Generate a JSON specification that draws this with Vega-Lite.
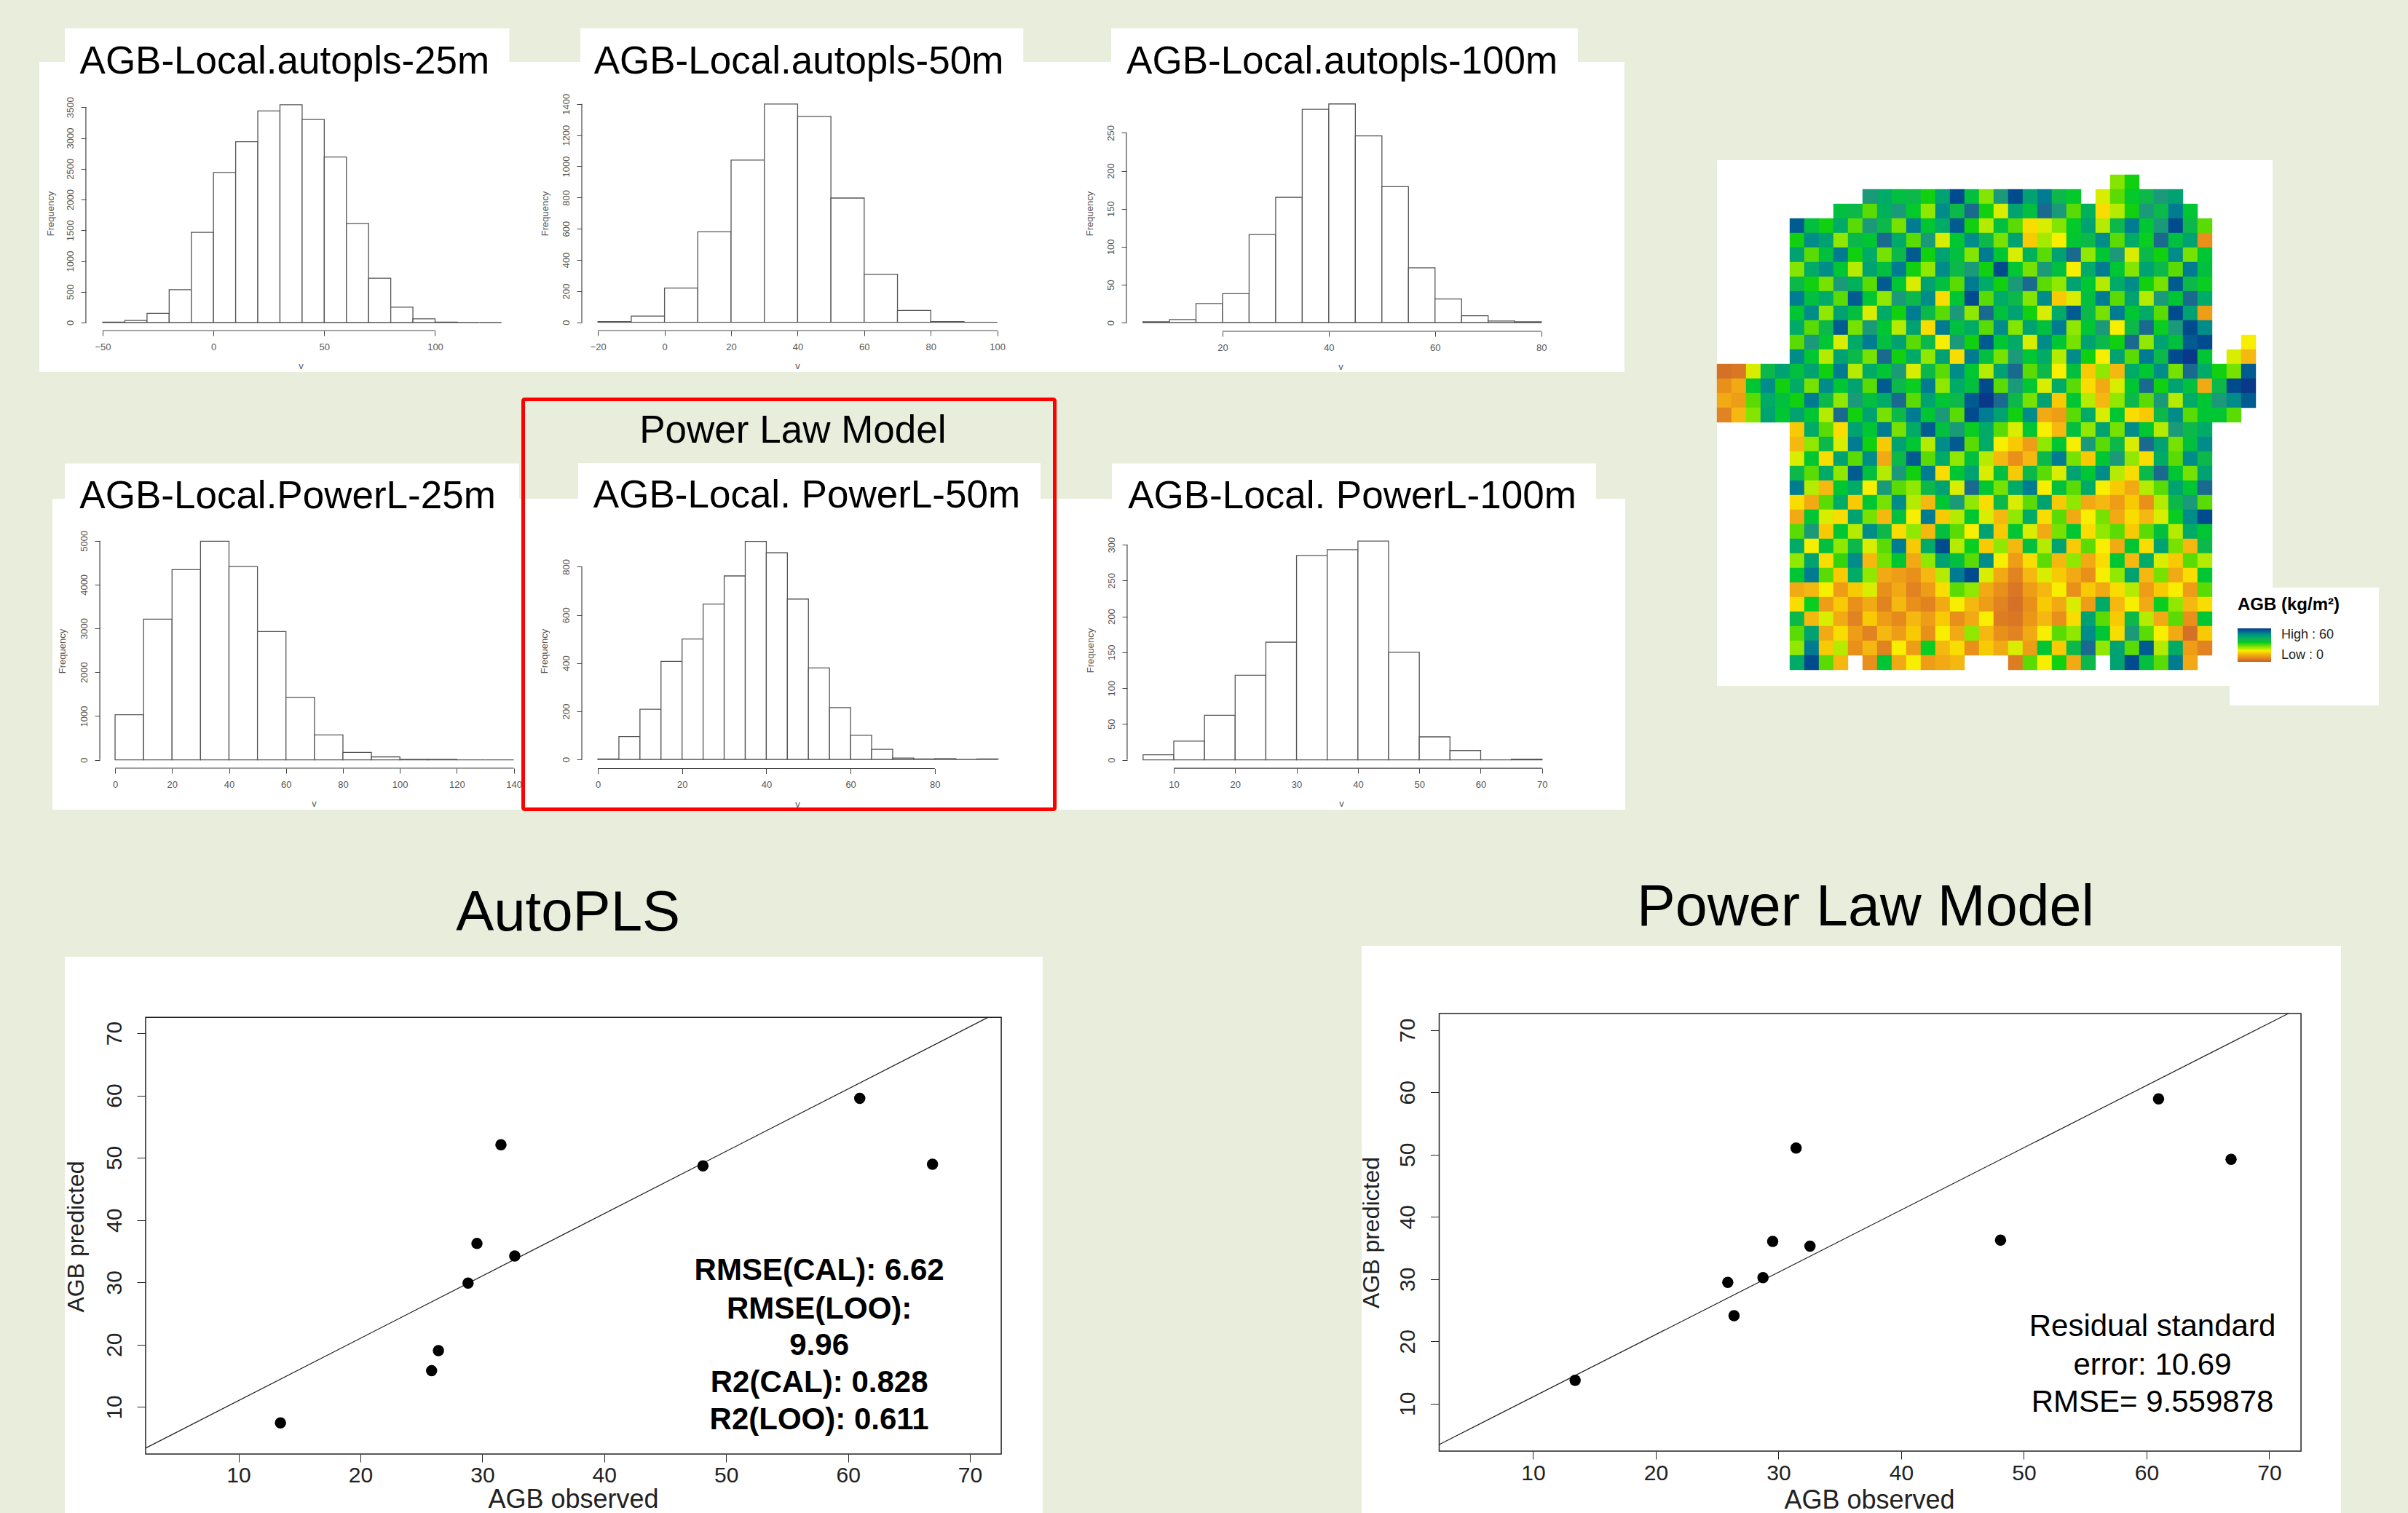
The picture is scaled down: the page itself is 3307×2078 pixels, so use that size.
{"$schema":"https://vega.github.io/schema/vega-lite/v6.json","background":"#e9eddc","padding":{"left":54,"top":38,"right":42,"bottom":0},"config":{"view":{"stroke":null},"font":"Liberation Sans","axis":{"grid":false,"domain":false,"zindex":1,"labelFont":"Liberation Sans","titleFont":"Liberation Sans","titleFontWeight":"normal","tickSize":7,"tickColor":"#444","labelColor":"#555","titleColor":"#555","labelFontSize":13,"titleFontSize":13,"labelOverlap":false,"labelBound":false,"labelFlush":false},"axisLeft":{"labelAngle":-90,"labelAlign":"center","labelBaseline":"bottom","labelPadding":8,"titleAngle":-90,"titleAlign":"center","titleBaseline":"middle"},"axisBottom":{"labelPadding":9,"titleAlign":"center","titleBaseline":"middle"}},
"datasets":{"one":[{}],"a1":[{"a":-50,"b":-40,"n":8},{"a":-40,"b":-30,"n":35},{"a":-30,"b":-20,"n":150},{"a":-20,"b":-10,"n":535},{"a":-10,"b":0,"n":1465},{"a":0,"b":10,"n":2440},{"a":10,"b":20,"n":2940},{"a":20,"b":30,"n":3440},{"a":30,"b":40,"n":3540},{"a":40,"b":50,"n":3300},{"a":50,"b":60,"n":2690},{"a":60,"b":70,"n":1610},{"a":70,"b":80,"n":720},{"a":80,"b":90,"n":250},{"a":90,"b":100,"n":60},{"a":100,"b":110,"n":8},{"a":110,"b":120,"n":0},{"a":120,"b":130,"n":0}],
"a2":[{"a":-20,"b":-10,"n":5},{"a":-10,"b":0,"n":40},{"a":0,"b":10,"n":220},{"a":10,"b":20,"n":580},{"a":20,"b":30,"n":1040},{"a":30,"b":40,"n":1400},{"a":40,"b":50,"n":1320},{"a":50,"b":60,"n":797},{"a":60,"b":70,"n":308},{"a":70,"b":80,"n":76},{"a":80,"b":90,"n":5},{"a":90,"b":100,"n":0}],
"a3":[{"a":5,"b":10,"n":1},{"a":10,"b":15,"n":4},{"a":15,"b":20,"n":25},{"a":20,"b":25,"n":38},{"a":25,"b":30,"n":116},{"a":30,"b":35,"n":165},{"a":35,"b":40,"n":281},{"a":40,"b":45,"n":288},{"a":45,"b":50,"n":246},{"a":50,"b":55,"n":179},{"a":55,"b":60,"n":72},{"a":60,"b":65,"n":31},{"a":65,"b":70,"n":9},{"a":70,"b":75,"n":2},{"a":75,"b":80,"n":1}],
"b1":[{"a":0,"b":10,"n":1030},{"a":10,"b":20,"n":3210},{"a":20,"b":30,"n":4340},{"a":30,"b":40,"n":4990},{"a":40,"b":50,"n":4410},{"a":50,"b":60,"n":2930},{"a":60,"b":70,"n":1430},{"a":70,"b":80,"n":570},{"a":80,"b":90,"n":170},{"a":90,"b":100,"n":70},{"a":100,"b":110,"n":15},{"a":110,"b":120,"n":15},{"a":120,"b":130,"n":0},{"a":130,"b":140,"n":0}],
"b2":[{"a":0,"b":5,"n":2},{"a":5,"b":10,"n":95},{"a":10,"b":15,"n":208},{"a":15,"b":20,"n":407},{"a":20,"b":25,"n":500},{"a":25,"b":30,"n":645},{"a":30,"b":35,"n":762},{"a":35,"b":40,"n":905},{"a":40,"b":45,"n":858},{"a":45,"b":50,"n":666},{"a":50,"b":55,"n":380},{"a":55,"b":60,"n":215},{"a":60,"b":65,"n":100},{"a":65,"b":70,"n":42},{"a":70,"b":75,"n":6},{"a":75,"b":80,"n":2},{"a":80,"b":85,"n":3},{"a":85,"b":90,"n":0},{"a":90,"b":95,"n":2}],
"b3":[{"a":5,"b":10,"n":7},{"a":10,"b":15,"n":26},{"a":15,"b":20,"n":62},{"a":20,"b":25,"n":118},{"a":25,"b":30,"n":164},{"a":30,"b":35,"n":285},{"a":35,"b":40,"n":293},{"a":40,"b":45,"n":305},{"a":45,"b":50,"n":150},{"a":50,"b":55,"n":32},{"a":55,"b":60,"n":13},{"a":60,"b":65,"n":0},{"a":65,"b":70,"n":1}],
"s1":[{"o":13.44,"p":7.46},{"o":25.84,"p":15.82},{"o":26.4,"p":19.04},{"o":28.83,"p":29.88},{"o":29.56,"p":36.24},{"o":32.66,"p":34.23},{"o":31.53,"p":52.1},{"o":48.1,"p":48.69},{"o":60.96,"p":59.53},{"o":66.93,"p":48.96}],
"s2":[{"o":13.43,"p":13.75},{"o":25.87,"p":29.49},{"o":26.38,"p":24.13},{"o":28.74,"p":30.23},{"o":29.53,"p":36.05},{"o":32.57,"p":35.3},{"o":31.44,"p":51.06},{"o":48.1,"p":36.26},{"o":60.98,"p":58.96},{"o":66.89,"p":49.25}],
"map":[{"c":27,"r":1,"v":27},{"c":28,"r":1,"v":33},
{"c":10,"r":2,"v":48},{"c":11,"r":2,"v":44},{"c":12,"r":2,"v":38},{"c":13,"r":2,"v":40},{"c":14,"r":2,"v":33},{"c":15,"r":2,"v":46},{"c":16,"r":2,"v":58},{"c":17,"r":2,"v":38},{"c":18,"r":2,"v":27},{"c":19,"r":2,"v":48},{"c":20,"r":2,"v":58},{"c":21,"r":2,"v":46},{"c":22,"r":2,"v":52},{"c":23,"r":2,"v":40},{"c":24,"r":2,"v":35},{"c":26,"r":2,"v":22},{"c":27,"r":2,"v":30},{"c":28,"r":2,"v":35},{"c":29,"r":2,"v":40},{"c":30,"r":2,"v":48},{"c":31,"r":2,"v":46},
{"c":8,"r":3,"v":38},{"c":9,"r":3,"v":40},{"c":10,"r":3,"v":30},{"c":11,"r":3,"v":42},{"c":12,"r":3,"v":48},{"c":13,"r":3,"v":35},{"c":14,"r":3,"v":26},{"c":15,"r":3,"v":50},{"c":16,"r":3,"v":40},{"c":17,"r":3,"v":54},{"c":18,"r":3,"v":33},{"c":19,"r":3,"v":22},{"c":20,"r":3,"v":46},{"c":21,"r":3,"v":38},{"c":22,"r":3,"v":54},{"c":23,"r":3,"v":48},{"c":24,"r":3,"v":30},{"c":25,"r":3,"v":42},{"c":26,"r":3,"v":18},{"c":27,"r":3,"v":24},{"c":28,"r":3,"v":33},{"c":29,"r":3,"v":48},{"c":30,"r":3,"v":40},{"c":31,"r":3,"v":52},{"c":32,"r":3,"v":36},
{"c":5,"r":4,"v":56},{"c":6,"r":4,"v":38},{"c":7,"r":4,"v":33},{"c":8,"r":4,"v":44},{"c":9,"r":4,"v":30},{"c":10,"r":4,"v":48},{"c":11,"r":4,"v":40},{"c":12,"r":4,"v":28},{"c":13,"r":4,"v":52},{"c":14,"r":4,"v":36},{"c":15,"r":4,"v":44},{"c":16,"r":4,"v":56},{"c":17,"r":4,"v":33},{"c":18,"r":4,"v":24},{"c":19,"r":4,"v":38},{"c":20,"r":4,"v":30},{"c":21,"r":4,"v":18},{"c":22,"r":4,"v":22},{"c":23,"r":4,"v":27},{"c":24,"r":4,"v":35},{"c":25,"r":4,"v":46},{"c":26,"r":4,"v":24},{"c":27,"r":4,"v":40},{"c":28,"r":4,"v":52},{"c":29,"r":4,"v":36},{"c":30,"r":4,"v":48},{"c":31,"r":4,"v":58},{"c":32,"r":4,"v":40},{"c":33,"r":4,"v":30},
{"c":5,"r":5,"v":33},{"c":6,"r":5,"v":50},{"c":7,"r":5,"v":46},{"c":8,"r":5,"v":26},{"c":9,"r":5,"v":40},{"c":10,"r":5,"v":36},{"c":11,"r":5,"v":54},{"c":12,"r":5,"v":44},{"c":13,"r":5,"v":30},{"c":14,"r":5,"v":48},{"c":15,"r":5,"v":22},{"c":16,"r":5,"v":36},{"c":17,"r":5,"v":50},{"c":18,"r":5,"v":40},{"c":19,"r":5,"v":28},{"c":20,"r":5,"v":46},{"c":21,"r":5,"v":16},{"c":22,"r":5,"v":25},{"c":23,"r":5,"v":20},{"c":24,"r":5,"v":36},{"c":25,"r":5,"v":40},{"c":26,"r":5,"v":50},{"c":27,"r":5,"v":30},{"c":28,"r":5,"v":44},{"c":29,"r":5,"v":34},{"c":30,"r":5,"v":54},{"c":31,"r":5,"v":38},{"c":32,"r":5,"v":46},{"c":33,"r":5,"v":8},
{"c":5,"r":6,"v":46},{"c":6,"r":6,"v":30},{"c":7,"r":6,"v":38},{"c":8,"r":6,"v":52},{"c":9,"r":6,"v":33},{"c":10,"r":6,"v":44},{"c":11,"r":6,"v":28},{"c":12,"r":6,"v":40},{"c":13,"r":6,"v":56},{"c":14,"r":6,"v":33},{"c":15,"r":6,"v":46},{"c":16,"r":6,"v":38},{"c":17,"r":6,"v":27},{"c":18,"r":6,"v":52},{"c":19,"r":6,"v":36},{"c":20,"r":6,"v":22},{"c":21,"r":6,"v":42},{"c":22,"r":6,"v":30},{"c":23,"r":6,"v":46},{"c":24,"r":6,"v":54},{"c":25,"r":6,"v":26},{"c":26,"r":6,"v":36},{"c":27,"r":6,"v":48},{"c":28,"r":6,"v":22},{"c":29,"r":6,"v":40},{"c":30,"r":6,"v":33},{"c":31,"r":6,"v":50},{"c":32,"r":6,"v":28},{"c":33,"r":6,"v":36},
{"c":5,"r":7,"v":27},{"c":6,"r":7,"v":44},{"c":7,"r":7,"v":50},{"c":8,"r":7,"v":36},{"c":9,"r":7,"v":24},{"c":10,"r":7,"v":46},{"c":11,"r":7,"v":38},{"c":12,"r":7,"v":52},{"c":13,"r":7,"v":33},{"c":14,"r":7,"v":26},{"c":15,"r":7,"v":50},{"c":16,"r":7,"v":40},{"c":17,"r":7,"v":48},{"c":18,"r":7,"v":33},{"c":19,"r":7,"v":58},{"c":20,"r":7,"v":36},{"c":21,"r":7,"v":28},{"c":22,"r":7,"v":48},{"c":23,"r":7,"v":38},{"c":24,"r":7,"v":20},{"c":25,"r":7,"v":44},{"c":26,"r":7,"v":52},{"c":27,"r":7,"v":36},{"c":28,"r":7,"v":27},{"c":29,"r":7,"v":46},{"c":30,"r":7,"v":40},{"c":31,"r":7,"v":30},{"c":32,"r":7,"v":52},{"c":33,"r":7,"v":38},
{"c":5,"r":8,"v":40},{"c":6,"r":8,"v":33},{"c":7,"r":8,"v":28},{"c":8,"r":8,"v":48},{"c":9,"r":8,"v":42},{"c":10,"r":8,"v":30},{"c":11,"r":8,"v":56},{"c":12,"r":8,"v":36},{"c":13,"r":8,"v":22},{"c":14,"r":8,"v":46},{"c":15,"r":8,"v":38},{"c":16,"r":8,"v":30},{"c":17,"r":8,"v":52},{"c":18,"r":8,"v":44},{"c":19,"r":8,"v":33},{"c":20,"r":8,"v":48},{"c":21,"r":8,"v":54},{"c":22,"r":8,"v":30},{"c":23,"r":8,"v":26},{"c":24,"r":8,"v":46},{"c":25,"r":8,"v":36},{"c":26,"r":8,"v":24},{"c":27,"r":8,"v":44},{"c":28,"r":8,"v":50},{"c":29,"r":8,"v":33},{"c":30,"r":8,"v":28},{"c":31,"r":8,"v":56},{"c":32,"r":8,"v":40},{"c":33,"r":8,"v":34},
{"c":5,"r":9,"v":52},{"c":6,"r":9,"v":38},{"c":7,"r":9,"v":44},{"c":8,"r":9,"v":30},{"c":9,"r":9,"v":56},{"c":10,"r":9,"v":36},{"c":11,"r":9,"v":26},{"c":12,"r":9,"v":48},{"c":13,"r":9,"v":40},{"c":14,"r":9,"v":50},{"c":15,"r":9,"v":18},{"c":16,"r":9,"v":36},{"c":17,"r":9,"v":58},{"c":18,"r":9,"v":30},{"c":19,"r":9,"v":44},{"c":20,"r":9,"v":40},{"c":21,"r":9,"v":27},{"c":22,"r":9,"v":50},{"c":23,"r":9,"v":16},{"c":24,"r":9,"v":22},{"c":25,"r":9,"v":38},{"c":26,"r":9,"v":52},{"c":27,"r":9,"v":30},{"c":28,"r":9,"v":46},{"c":29,"r":9,"v":24},{"c":30,"r":9,"v":48},{"c":31,"r":9,"v":36},{"c":32,"r":9,"v":54},{"c":33,"r":9,"v":44},
{"c":5,"r":10,"v":36},{"c":6,"r":10,"v":50},{"c":7,"r":10,"v":26},{"c":8,"r":10,"v":46},{"c":9,"r":10,"v":38},{"c":10,"r":10,"v":22},{"c":11,"r":10,"v":44},{"c":12,"r":10,"v":33},{"c":13,"r":10,"v":52},{"c":14,"r":10,"v":40},{"c":15,"r":10,"v":30},{"c":16,"r":10,"v":48},{"c":17,"r":10,"v":26},{"c":18,"r":10,"v":54},{"c":19,"r":10,"v":38},{"c":20,"r":10,"v":46},{"c":21,"r":10,"v":33},{"c":22,"r":10,"v":22},{"c":23,"r":10,"v":44},{"c":24,"r":10,"v":56},{"c":25,"r":10,"v":40},{"c":26,"r":10,"v":28},{"c":27,"r":10,"v":52},{"c":28,"r":10,"v":36},{"c":29,"r":10,"v":44},{"c":30,"r":10,"v":30},{"c":31,"r":10,"v":58},{"c":32,"r":10,"v":46},{"c":33,"r":10,"v":10},
{"c":5,"r":11,"v":44},{"c":6,"r":11,"v":30},{"c":7,"r":11,"v":40},{"c":8,"r":11,"v":56},{"c":9,"r":11,"v":28},{"c":10,"r":11,"v":48},{"c":11,"r":11,"v":36},{"c":12,"r":11,"v":24},{"c":13,"r":11,"v":46},{"c":14,"r":11,"v":18},{"c":15,"r":11,"v":52},{"c":16,"r":11,"v":38},{"c":17,"r":11,"v":44},{"c":18,"r":11,"v":30},{"c":19,"r":11,"v":50},{"c":20,"r":11,"v":27},{"c":21,"r":11,"v":46},{"c":22,"r":11,"v":38},{"c":23,"r":11,"v":52},{"c":24,"r":11,"v":26},{"c":25,"r":11,"v":36},{"c":26,"r":11,"v":48},{"c":27,"r":11,"v":20},{"c":28,"r":11,"v":40},{"c":29,"r":11,"v":54},{"c":30,"r":11,"v":34},{"c":31,"r":11,"v":48},{"c":32,"r":11,"v":58},{"c":33,"r":11,"v":50},
{"c":5,"r":12,"v":30},{"c":6,"r":12,"v":48},{"c":7,"r":12,"v":36},{"c":8,"r":12,"v":22},{"c":9,"r":12,"v":44},{"c":10,"r":12,"v":52},{"c":11,"r":12,"v":38},{"c":12,"r":12,"v":46},{"c":13,"r":12,"v":30},{"c":14,"r":12,"v":40},{"c":15,"r":12,"v":20},{"c":16,"r":12,"v":48},{"c":17,"r":12,"v":33},{"c":18,"r":12,"v":56},{"c":19,"r":12,"v":36},{"c":20,"r":12,"v":44},{"c":21,"r":12,"v":22},{"c":22,"r":12,"v":50},{"c":23,"r":12,"v":36},{"c":24,"r":12,"v":28},{"c":25,"r":12,"v":46},{"c":26,"r":12,"v":40},{"c":27,"r":12,"v":33},{"c":28,"r":12,"v":54},{"c":29,"r":12,"v":26},{"c":30,"r":12,"v":46},{"c":31,"r":12,"v":38},{"c":32,"r":12,"v":56},{"c":33,"r":12,"v":58},
{"c":5,"r":13,"v":50},{"c":6,"r":13,"v":36},{"c":7,"r":13,"v":24},{"c":8,"r":13,"v":46},{"c":9,"r":13,"v":40},{"c":10,"r":13,"v":28},{"c":11,"r":13,"v":54},{"c":12,"r":13,"v":33},{"c":13,"r":13,"v":44},{"c":14,"r":13,"v":26},{"c":15,"r":13,"v":46},{"c":16,"r":13,"v":18},{"c":17,"r":13,"v":52},{"c":18,"r":13,"v":38},{"c":19,"r":13,"v":28},{"c":20,"r":13,"v":48},{"c":21,"r":13,"v":36},{"c":22,"r":13,"v":44},{"c":23,"r":13,"v":24},{"c":24,"r":13,"v":50},{"c":25,"r":13,"v":33},{"c":26,"r":13,"v":20},{"c":27,"r":13,"v":46},{"c":28,"r":13,"v":30},{"c":29,"r":13,"v":52},{"c":30,"r":13,"v":40},{"c":31,"r":13,"v":58},{"c":32,"r":13,"v":60},{"c":33,"r":13,"v":36},
{"c":5,"r":14,"v":38},{"c":6,"r":14,"v":46},{"c":7,"r":14,"v":33},{"c":8,"r":14,"v":52},{"c":9,"r":14,"v":24},{"c":10,"r":14,"v":44},{"c":11,"r":14,"v":36},{"c":12,"r":14,"v":48},{"c":13,"r":14,"v":22},{"c":14,"r":14,"v":40},{"c":15,"r":14,"v":30},{"c":16,"r":14,"v":50},{"c":17,"r":14,"v":36},{"c":18,"r":14,"v":24},{"c":19,"r":14,"v":46},{"c":20,"r":14,"v":54},{"c":21,"r":14,"v":30},{"c":22,"r":14,"v":40},{"c":23,"r":14,"v":20},{"c":24,"r":14,"v":38},{"c":25,"r":14,"v":16},{"c":26,"r":14,"v":26},{"c":27,"r":14,"v":14},{"c":28,"r":14,"v":44},{"c":29,"r":14,"v":36},{"c":30,"r":14,"v":50},{"c":31,"r":14,"v":28},{"c":32,"r":14,"v":54},{"c":33,"r":14,"v":44},
{"c":5,"r":15,"v":44},{"c":6,"r":15,"v":28},{"c":7,"r":15,"v":50},{"c":8,"r":15,"v":36},{"c":9,"r":15,"v":46},{"c":10,"r":15,"v":30},{"c":11,"r":15,"v":56},{"c":12,"r":15,"v":40},{"c":13,"r":15,"v":34},{"c":14,"r":15,"v":52},{"c":15,"r":15,"v":26},{"c":16,"r":15,"v":44},{"c":17,"r":15,"v":38},{"c":18,"r":15,"v":58},{"c":19,"r":15,"v":30},{"c":20,"r":15,"v":48},{"c":21,"r":15,"v":36},{"c":22,"r":15,"v":22},{"c":23,"r":15,"v":44},{"c":24,"r":15,"v":30},{"c":25,"r":15,"v":18},{"c":26,"r":15,"v":12},{"c":27,"r":15,"v":22},{"c":28,"r":15,"v":36},{"c":29,"r":15,"v":54},{"c":30,"r":15,"v":33},{"c":31,"r":15,"v":46},{"c":32,"r":15,"v":38},{"c":33,"r":15,"v":12},
{"c":5,"r":16,"v":33},{"c":6,"r":16,"v":52},{"c":7,"r":16,"v":40},{"c":8,"r":16,"v":26},{"c":9,"r":16,"v":48},{"c":10,"r":16,"v":38},{"c":11,"r":16,"v":44},{"c":12,"r":16,"v":54},{"c":13,"r":16,"v":30},{"c":14,"r":16,"v":46},{"c":15,"r":16,"v":36},{"c":16,"r":16,"v":40},{"c":17,"r":16,"v":56},{"c":18,"r":16,"v":60},{"c":19,"r":16,"v":54},{"c":20,"r":16,"v":40},{"c":21,"r":16,"v":28},{"c":22,"r":16,"v":46},{"c":23,"r":16,"v":16},{"c":24,"r":16,"v":36},{"c":25,"r":16,"v":24},{"c":26,"r":16,"v":14},{"c":27,"r":16,"v":26},{"c":28,"r":16,"v":40},{"c":29,"r":16,"v":30},{"c":30,"r":16,"v":48},{"c":31,"r":16,"v":24},{"c":32,"r":16,"v":44},{"c":33,"r":16,"v":36},
{"c":5,"r":17,"v":46},{"c":6,"r":17,"v":36},{"c":7,"r":17,"v":24},{"c":8,"r":17,"v":54},{"c":9,"r":17,"v":33},{"c":10,"r":17,"v":46},{"c":11,"r":17,"v":28},{"c":12,"r":17,"v":40},{"c":13,"r":17,"v":52},{"c":14,"r":17,"v":36},{"c":15,"r":17,"v":48},{"c":16,"r":17,"v":30},{"c":17,"r":17,"v":58},{"c":18,"r":17,"v":52},{"c":19,"r":17,"v":46},{"c":20,"r":17,"v":33},{"c":21,"r":17,"v":50},{"c":22,"r":17,"v":12},{"c":23,"r":17,"v":10},{"c":24,"r":17,"v":30},{"c":25,"r":17,"v":44},{"c":26,"r":17,"v":22},{"c":27,"r":17,"v":36},{"c":28,"r":17,"v":18},{"c":29,"r":17,"v":16},{"c":30,"r":17,"v":40},{"c":31,"r":17,"v":50},{"c":32,"r":17,"v":30},{"c":33,"r":17,"v":36},
{"c":5,"r":18,"v":16},{"c":6,"r":18,"v":44},{"c":7,"r":18,"v":30},{"c":8,"r":18,"v":18},{"c":9,"r":18,"v":46},{"c":10,"r":18,"v":36},{"c":11,"r":18,"v":52},{"c":12,"r":18,"v":28},{"c":13,"r":18,"v":44},{"c":14,"r":18,"v":56},{"c":15,"r":18,"v":38},{"c":16,"r":18,"v":48},{"c":17,"r":18,"v":34},{"c":18,"r":18,"v":44},{"c":19,"r":18,"v":30},{"c":20,"r":18,"v":22},{"c":21,"r":18,"v":36},{"c":22,"r":18,"v":20},{"c":23,"r":18,"v":14},{"c":24,"r":18,"v":38},{"c":25,"r":18,"v":26},{"c":26,"r":18,"v":46},{"c":27,"r":18,"v":28},{"c":28,"r":18,"v":50},{"c":29,"r":18,"v":36},{"c":30,"r":18,"v":24},{"c":31,"r":18,"v":48},{"c":32,"r":18,"v":40},{"c":33,"r":18,"v":44},
{"c":5,"r":19,"v":14},{"c":6,"r":19,"v":26},{"c":7,"r":19,"v":40},{"c":8,"r":19,"v":22},{"c":9,"r":19,"v":52},{"c":10,"r":19,"v":33},{"c":11,"r":19,"v":16},{"c":12,"r":19,"v":46},{"c":13,"r":19,"v":36},{"c":14,"r":19,"v":24},{"c":15,"r":19,"v":50},{"c":16,"r":19,"v":56},{"c":17,"r":19,"v":30},{"c":18,"r":19,"v":44},{"c":19,"r":19,"v":20},{"c":20,"r":19,"v":16},{"c":21,"r":19,"v":10},{"c":22,"r":19,"v":26},{"c":23,"r":19,"v":36},{"c":24,"r":19,"v":20},{"c":25,"r":19,"v":48},{"c":26,"r":19,"v":30},{"c":27,"r":19,"v":40},{"c":28,"r":19,"v":22},{"c":29,"r":19,"v":54},{"c":30,"r":19,"v":46},{"c":31,"r":19,"v":28},{"c":32,"r":19,"v":38},{"c":33,"r":19,"v":50},
{"c":5,"r":20,"v":22},{"c":6,"r":20,"v":36},{"c":7,"r":20,"v":18},{"c":8,"r":20,"v":46},{"c":9,"r":20,"v":30},{"c":10,"r":20,"v":50},{"c":11,"r":20,"v":12},{"c":12,"r":20,"v":40},{"c":13,"r":20,"v":56},{"c":14,"r":20,"v":30},{"c":15,"r":20,"v":44},{"c":16,"r":20,"v":26},{"c":17,"r":20,"v":38},{"c":18,"r":20,"v":24},{"c":19,"r":20,"v":14},{"c":20,"r":20,"v":8},{"c":21,"r":20,"v":14},{"c":22,"r":20,"v":40},{"c":23,"r":20,"v":52},{"c":24,"r":20,"v":28},{"c":25,"r":20,"v":16},{"c":26,"r":20,"v":36},{"c":27,"r":20,"v":48},{"c":28,"r":20,"v":26},{"c":29,"r":20,"v":18},{"c":30,"r":20,"v":44},{"c":31,"r":20,"v":30},{"c":32,"r":20,"v":50},{"c":33,"r":20,"v":40},
{"c":5,"r":21,"v":40},{"c":6,"r":21,"v":30},{"c":7,"r":21,"v":44},{"c":8,"r":21,"v":26},{"c":9,"r":21,"v":56},{"c":10,"r":21,"v":38},{"c":11,"r":21,"v":24},{"c":12,"r":21,"v":48},{"c":13,"r":21,"v":33},{"c":14,"r":21,"v":52},{"c":15,"r":21,"v":18},{"c":16,"r":21,"v":36},{"c":17,"r":21,"v":46},{"c":18,"r":21,"v":22},{"c":19,"r":21,"v":38},{"c":20,"r":21,"v":16},{"c":21,"r":21,"v":40},{"c":22,"r":21,"v":30},{"c":23,"r":21,"v":22},{"c":24,"r":21,"v":46},{"c":25,"r":21,"v":36},{"c":26,"r":21,"v":50},{"c":27,"r":21,"v":24},{"c":28,"r":21,"v":18},{"c":29,"r":21,"v":40},{"c":30,"r":21,"v":54},{"c":31,"r":21,"v":36},{"c":32,"r":21,"v":28},{"c":33,"r":21,"v":46},
{"c":5,"r":22,"v":52},{"c":6,"r":22,"v":24},{"c":7,"r":22,"v":14},{"c":8,"r":22,"v":36},{"c":9,"r":22,"v":44},{"c":10,"r":22,"v":20},{"c":11,"r":22,"v":48},{"c":12,"r":22,"v":30},{"c":13,"r":22,"v":26},{"c":14,"r":22,"v":40},{"c":15,"r":22,"v":46},{"c":16,"r":22,"v":22},{"c":17,"r":22,"v":54},{"c":18,"r":22,"v":36},{"c":19,"r":22,"v":28},{"c":20,"r":22,"v":44},{"c":21,"r":22,"v":52},{"c":22,"r":22,"v":20},{"c":23,"r":22,"v":38},{"c":24,"r":22,"v":30},{"c":25,"r":22,"v":44},{"c":26,"r":22,"v":20},{"c":27,"r":22,"v":16},{"c":28,"r":22,"v":12},{"c":29,"r":22,"v":24},{"c":30,"r":22,"v":30},{"c":31,"r":22,"v":46},{"c":32,"r":22,"v":36},{"c":33,"r":22,"v":54},
{"c":5,"r":23,"v":18},{"c":6,"r":23,"v":12},{"c":7,"r":23,"v":30},{"c":8,"r":23,"v":44},{"c":9,"r":23,"v":16},{"c":10,"r":23,"v":36},{"c":11,"r":23,"v":28},{"c":12,"r":23,"v":50},{"c":13,"r":23,"v":24},{"c":14,"r":23,"v":14},{"c":15,"r":23,"v":36},{"c":16,"r":23,"v":48},{"c":17,"r":23,"v":26},{"c":18,"r":23,"v":18},{"c":19,"r":23,"v":40},{"c":20,"r":23,"v":22},{"c":21,"r":23,"v":30},{"c":22,"r":23,"v":46},{"c":23,"r":23,"v":16},{"c":24,"r":23,"v":26},{"c":25,"r":23,"v":12},{"c":26,"r":23,"v":14},{"c":27,"r":23,"v":10},{"c":28,"r":23,"v":16},{"c":29,"r":23,"v":8},{"c":30,"r":23,"v":24},{"c":31,"r":23,"v":40},{"c":32,"r":23,"v":48},{"c":33,"r":23,"v":30},
{"c":5,"r":24,"v":12},{"c":6,"r":24,"v":36},{"c":7,"r":24,"v":22},{"c":8,"r":24,"v":18},{"c":9,"r":24,"v":46},{"c":10,"r":24,"v":28},{"c":11,"r":24,"v":14},{"c":12,"r":24,"v":38},{"c":13,"r":24,"v":20},{"c":14,"r":24,"v":52},{"c":15,"r":24,"v":16},{"c":16,"r":24,"v":24},{"c":17,"r":24,"v":36},{"c":18,"r":24,"v":22},{"c":19,"r":24,"v":14},{"c":20,"r":24,"v":26},{"c":21,"r":24,"v":44},{"c":22,"r":24,"v":18},{"c":23,"r":24,"v":30},{"c":24,"r":24,"v":12},{"c":25,"r":24,"v":20},{"c":26,"r":24,"v":28},{"c":27,"r":24,"v":12},{"c":28,"r":24,"v":18},{"c":29,"r":24,"v":14},{"c":30,"r":24,"v":22},{"c":31,"r":24,"v":34},{"c":32,"r":24,"v":50},{"c":33,"r":24,"v":58},
{"c":5,"r":25,"v":30},{"c":6,"r":25,"v":48},{"c":7,"r":25,"v":16},{"c":8,"r":25,"v":36},{"c":9,"r":25,"v":24},{"c":10,"r":25,"v":50},{"c":11,"r":25,"v":40},{"c":12,"r":25,"v":18},{"c":13,"r":25,"v":26},{"c":14,"r":25,"v":14},{"c":15,"r":25,"v":38},{"c":16,"r":25,"v":30},{"c":17,"r":25,"v":20},{"c":18,"r":25,"v":46},{"c":19,"r":25,"v":16},{"c":20,"r":25,"v":36},{"c":21,"r":25,"v":22},{"c":22,"r":25,"v":12},{"c":23,"r":25,"v":28},{"c":24,"r":25,"v":36},{"c":25,"r":25,"v":18},{"c":26,"r":25,"v":26},{"c":27,"r":25,"v":30},{"c":28,"r":25,"v":16},{"c":29,"r":25,"v":30},{"c":30,"r":25,"v":38},{"c":31,"r":25,"v":24},{"c":32,"r":25,"v":44},{"c":33,"r":25,"v":36},
{"c":5,"r":26,"v":44},{"c":6,"r":26,"v":20},{"c":7,"r":26,"v":38},{"c":8,"r":26,"v":26},{"c":9,"r":26,"v":40},{"c":10,"r":26,"v":22},{"c":11,"r":26,"v":30},{"c":12,"r":26,"v":52},{"c":13,"r":26,"v":16},{"c":14,"r":26,"v":44},{"c":15,"r":26,"v":58},{"c":16,"r":26,"v":24},{"c":17,"r":26,"v":34},{"c":18,"r":26,"v":16},{"c":19,"r":26,"v":26},{"c":20,"r":26,"v":14},{"c":21,"r":26,"v":38},{"c":22,"r":26,"v":24},{"c":23,"r":26,"v":46},{"c":24,"r":26,"v":16},{"c":25,"r":26,"v":30},{"c":26,"r":26,"v":20},{"c":27,"r":26,"v":12},{"c":28,"r":26,"v":36},{"c":29,"r":26,"v":18},{"c":30,"r":26,"v":46},{"c":31,"r":26,"v":28},{"c":32,"r":26,"v":14},{"c":33,"r":26,"v":40},
{"c":5,"r":27,"v":26},{"c":6,"r":27,"v":46},{"c":7,"r":27,"v":18},{"c":8,"r":27,"v":32},{"c":9,"r":27,"v":50},{"c":10,"r":27,"v":14},{"c":11,"r":27,"v":28},{"c":12,"r":27,"v":36},{"c":13,"r":27,"v":12},{"c":14,"r":27,"v":26},{"c":15,"r":27,"v":46},{"c":16,"r":27,"v":38},{"c":17,"r":27,"v":30},{"c":18,"r":27,"v":50},{"c":19,"r":27,"v":20},{"c":20,"r":27,"v":10},{"c":21,"r":27,"v":18},{"c":22,"r":27,"v":30},{"c":23,"r":27,"v":14},{"c":24,"r":27,"v":26},{"c":25,"r":27,"v":12},{"c":26,"r":27,"v":18},{"c":27,"r":27,"v":36},{"c":28,"r":27,"v":14},{"c":29,"r":27,"v":44},{"c":30,"r":27,"v":22},{"c":31,"r":27,"v":16},{"c":32,"r":27,"v":30},{"c":33,"r":27,"v":24},
{"c":5,"r":28,"v":36},{"c":6,"r":28,"v":52},{"c":7,"r":28,"v":30},{"c":8,"r":28,"v":16},{"c":9,"r":28,"v":44},{"c":10,"r":28,"v":26},{"c":11,"r":28,"v":12},{"c":12,"r":28,"v":10},{"c":13,"r":28,"v":8},{"c":14,"r":28,"v":14},{"c":15,"r":28,"v":24},{"c":16,"r":28,"v":52},{"c":17,"r":28,"v":58},{"c":18,"r":28,"v":22},{"c":19,"r":28,"v":12},{"c":20,"r":28,"v":6},{"c":21,"r":28,"v":14},{"c":22,"r":28,"v":22},{"c":23,"r":28,"v":16},{"c":24,"r":28,"v":12},{"c":25,"r":28,"v":8},{"c":26,"r":28,"v":20},{"c":27,"r":28,"v":26},{"c":28,"r":28,"v":46},{"c":29,"r":28,"v":14},{"c":30,"r":28,"v":28},{"c":31,"r":28,"v":12},{"c":32,"r":28,"v":18},{"c":33,"r":28,"v":36},
{"c":5,"r":29,"v":12},{"c":6,"r":29,"v":14},{"c":7,"r":29,"v":20},{"c":8,"r":29,"v":10},{"c":9,"r":29,"v":16},{"c":10,"r":29,"v":22},{"c":11,"r":29,"v":8},{"c":12,"r":29,"v":12},{"c":13,"r":29,"v":6},{"c":14,"r":29,"v":10},{"c":15,"r":29,"v":18},{"c":16,"r":29,"v":30},{"c":17,"r":29,"v":26},{"c":18,"r":29,"v":12},{"c":19,"r":29,"v":8},{"c":20,"r":29,"v":4},{"c":21,"r":29,"v":10},{"c":22,"r":29,"v":14},{"c":23,"r":29,"v":20},{"c":24,"r":29,"v":8},{"c":25,"r":29,"v":16},{"c":26,"r":29,"v":12},{"c":27,"r":29,"v":18},{"c":28,"r":29,"v":24},{"c":29,"r":29,"v":10},{"c":30,"r":29,"v":16},{"c":31,"r":29,"v":20},{"c":32,"r":29,"v":10},{"c":33,"r":29,"v":30},
{"c":5,"r":30,"v":18},{"c":6,"r":30,"v":34},{"c":7,"r":30,"v":10},{"c":8,"r":30,"v":16},{"c":9,"r":30,"v":8},{"c":10,"r":30,"v":12},{"c":11,"r":30,"v":6},{"c":12,"r":30,"v":14},{"c":13,"r":30,"v":8},{"c":14,"r":30,"v":6},{"c":15,"r":30,"v":12},{"c":16,"r":30,"v":20},{"c":17,"r":30,"v":14},{"c":18,"r":30,"v":10},{"c":19,"r":30,"v":6},{"c":20,"r":30,"v":3},{"c":21,"r":30,"v":8},{"c":22,"r":30,"v":16},{"c":23,"r":30,"v":12},{"c":24,"r":30,"v":22},{"c":25,"r":30,"v":10},{"c":26,"r":30,"v":44},{"c":27,"r":30,"v":14},{"c":28,"r":30,"v":20},{"c":29,"r":30,"v":12},{"c":30,"r":30,"v":34},{"c":31,"r":30,"v":26},{"c":32,"r":30,"v":14},{"c":33,"r":30,"v":18},
{"c":5,"r":31,"v":40},{"c":6,"r":31,"v":14},{"c":7,"r":31,"v":22},{"c":8,"r":31,"v":12},{"c":9,"r":31,"v":6},{"c":10,"r":31,"v":16},{"c":11,"r":31,"v":10},{"c":12,"r":31,"v":7},{"c":13,"r":31,"v":14},{"c":14,"r":31,"v":10},{"c":15,"r":31,"v":16},{"c":16,"r":31,"v":8},{"c":17,"r":31,"v":12},{"c":18,"r":31,"v":20},{"c":19,"r":31,"v":5},{"c":20,"r":31,"v":4},{"c":21,"r":31,"v":9},{"c":22,"r":31,"v":14},{"c":23,"r":31,"v":8},{"c":24,"r":31,"v":18},{"c":25,"r":31,"v":46},{"c":26,"r":31,"v":30},{"c":27,"r":31,"v":16},{"c":28,"r":31,"v":40},{"c":29,"r":31,"v":24},{"c":30,"r":31,"v":12},{"c":31,"r":31,"v":30},{"c":32,"r":31,"v":8},{"c":33,"r":31,"v":36},
{"c":5,"r":32,"v":30},{"c":6,"r":32,"v":46},{"c":7,"r":32,"v":12},{"c":8,"r":32,"v":18},{"c":9,"r":32,"v":10},{"c":10,"r":32,"v":6},{"c":11,"r":32,"v":14},{"c":12,"r":32,"v":10},{"c":13,"r":32,"v":16},{"c":14,"r":32,"v":8},{"c":15,"r":32,"v":20},{"c":16,"r":32,"v":12},{"c":17,"r":32,"v":26},{"c":18,"r":32,"v":14},{"c":19,"r":32,"v":8},{"c":20,"r":32,"v":6},{"c":21,"r":32,"v":12},{"c":22,"r":32,"v":20},{"c":23,"r":32,"v":30},{"c":24,"r":32,"v":26},{"c":25,"r":32,"v":50},{"c":26,"r":32,"v":36},{"c":27,"r":32,"v":18},{"c":28,"r":32,"v":48},{"c":29,"r":32,"v":30},{"c":30,"r":32,"v":20},{"c":31,"r":32,"v":12},{"c":32,"r":32,"v":3},{"c":33,"r":32,"v":16},
{"c":5,"r":33,"v":26},{"c":6,"r":33,"v":52},{"c":7,"r":33,"v":16},{"c":8,"r":33,"v":24},{"c":9,"r":33,"v":8},{"c":10,"r":33,"v":14},{"c":11,"r":33,"v":6},{"c":12,"r":33,"v":20},{"c":13,"r":33,"v":10},{"c":14,"r":33,"v":34},{"c":15,"r":33,"v":14},{"c":16,"r":33,"v":18},{"c":17,"r":33,"v":8},{"c":18,"r":33,"v":16},{"c":19,"r":33,"v":12},{"c":20,"r":33,"v":22},{"c":21,"r":33,"v":10},{"c":22,"r":33,"v":36},{"c":23,"r":33,"v":16},{"c":24,"r":33,"v":40},{"c":25,"r":33,"v":54},{"c":26,"r":33,"v":26},{"c":27,"r":33,"v":46},{"c":28,"r":33,"v":30},{"c":29,"r":33,"v":56},{"c":30,"r":33,"v":24},{"c":31,"r":33,"v":44},{"c":32,"r":33,"v":10},{"c":33,"r":33,"v":6},
{"c":5,"r":34,"v":44},{"c":6,"r":34,"v":58},{"c":7,"r":34,"v":30},{"c":8,"r":34,"v":14},{"c":10,"r":34,"v":8},{"c":11,"r":34,"v":36},{"c":12,"r":34,"v":12},{"c":13,"r":34,"v":20},{"c":14,"r":34,"v":10},{"c":15,"r":34,"v":12},{"c":16,"r":34,"v":14},{"c":20,"r":34,"v":5},{"c":21,"r":34,"v":30},{"c":22,"r":34,"v":20},{"c":23,"r":34,"v":33},{"c":24,"r":34,"v":12},{"c":25,"r":34,"v":40},{"c":27,"r":34,"v":46},{"c":28,"r":34,"v":58},{"c":29,"r":34,"v":38},{"c":30,"r":34,"v":30},{"c":31,"r":34,"v":52},{"c":32,"r":34,"v":12},
{"c":0,"r":14,"v":3},{"c":1,"r":14,"v":4},{"c":2,"r":14,"v":22},{"c":3,"r":14,"v":40},{"c":4,"r":14,"v":46},{"c":0,"r":15,"v":8},{"c":1,"r":15,"v":12},{"c":2,"r":15,"v":36},{"c":3,"r":15,"v":50},{"c":4,"r":15,"v":33},{"c":0,"r":16,"v":12},{"c":1,"r":16,"v":10},{"c":2,"r":16,"v":30},{"c":3,"r":16,"v":44},{"c":4,"r":16,"v":38},{"c":0,"r":17,"v":6},{"c":1,"r":17,"v":14},{"c":2,"r":17,"v":27},{"c":3,"r":17,"v":46},{"c":4,"r":17,"v":36},
{"c":36,"r":12,"v":20},{"c":35,"r":13,"v":22},{"c":36,"r":13,"v":14},{"c":34,"r":14,"v":33},{"c":35,"r":14,"v":28},{"c":36,"r":14,"v":56},{"c":34,"r":15,"v":40},{"c":35,"r":15,"v":58},{"c":36,"r":15,"v":60},{"c":34,"r":16,"v":48},{"c":35,"r":16,"v":50},{"c":36,"r":16,"v":56},{"c":34,"r":17,"v":36},{"c":35,"r":17,"v":30}]},
"vconcat":[{"hconcat":[{"vconcat":[{"hconcat":[
{"width":663,"height":426,"view":{"fill":"white"},"layer":[
{"data":{"name":"one"},"mark":{"type":"rect","fill":"white"},"encoding":{"x":{"datum":-67.1},"x2":{"datum":133.5},"y":{"datum":4236.7},"y2":{"datum":4781}}},
{"data":{"name":"a1"},"mark":{"type":"rect","fill":"white","stroke":"#555","strokeWidth":1.3},"encoding":{"x":{"field":"a","type":"quantitative","scale":{"domain":[-78.6,139.27],"nice":false,"zero":false},"axis":{"offset":-57,"values":[-50,0,50,100],"title":"v","titleX":359,"titleY":48,"zindex":1}},"x2":{"field":"b"},"y":{"field":"n","type":"quantitative","scale":{"domain":[-804.7,4236.7],"nice":false,"zero":false},"axis":{"offset":-64,"format":"d","values":[0,500,1000,1500,2000,2500,3000,3500],"title":"Frequency","titleX":-49,"titleY":208,"zindex":1}},"y2":{"datum":0}}},
{"data":{"name":"one"},"mark":{"type":"rule","color":"#444","strokeWidth":1.2},"encoding":{"x":{"datum":-50},"x2":{"datum":100},"y":{"datum":-130}}},
{"data":{"name":"one"},"mark":{"type":"rule","color":"#444","strokeWidth":1.2},"encoding":{"x":{"datum":-57.6},"y":{"datum":0},"y2":{"datum":3500}}},
{"data":{"name":"one"},"mark":{"type":"text","fontSize":53,"baseline":"alphabetic","align":"center","color":"#000","text":"AGB-Local.autopls-25m"},"encoding":{"x":{"datum":32.1},"y":{"datum":4047}}}]},
{"width":734,"height":426,"view":{"fill":"white"},"layer":[
{"data":{"name":"one"},"mark":{"type":"rect","fill":"white"},"encoding":{"x":{"datum":-25.3},"x2":{"datum":107.8},"y":{"datum":1670},"y2":{"datum":1885.6}}},
{"data":{"name":"a2"},"mark":{"type":"rect","fill":"white","stroke":"#555","strokeWidth":1.3},"encoding":{"x":{"field":"a","type":"quantitative","scale":{"domain":[-42.8,117.8],"nice":false,"zero":false},"axis":{"offset":-57,"values":[-20,0,20,40,60,80,100],"title":"v","titleX":378,"titleY":48,"zindex":1}},"x2":{"field":"b"},"y":{"field":"n","type":"quantitative","scale":{"domain":[-319,1670],"nice":false,"zero":false},"axis":{"offset":-82,"format":"d","values":[0,200,400,600,800,1000,1200,1400],"title":"Frequency","titleX":-51,"titleY":208,"zindex":1}},"y2":{"datum":0}}},
{"data":{"name":"one"},"mark":{"type":"rule","color":"#444","strokeWidth":1.2},"encoding":{"x":{"datum":-20},"x2":{"datum":100},"y":{"datum":-52.8}}},
{"data":{"name":"one"},"mark":{"type":"rule","color":"#444","strokeWidth":1.2},"encoding":{"x":{"datum":-24.86},"y":{"datum":0},"y2":{"datum":1400}}},
{"data":{"name":"one"},"mark":{"type":"text","fontSize":53,"baseline":"alphabetic","align":"center","color":"#000","text":"AGB-Local.autopls-50m"},"encoding":{"x":{"datum":40.35},"y":{"datum":1596}}}]},
{"width":780,"height":426,"view":{"fill":"white"},"layer":[
{"data":{"name":"one"},"mark":{"type":"rect","fill":"white"},"encoding":{"x":{"datum":-0.97},"x2":{"datum":86.9},"y":{"datum":343.4},"y2":{"datum":387.6}}},
{"data":{"name":"a3"},"mark":{"type":"rect","fill":"white","stroke":"#555","strokeWidth":1.3},"encoding":{"x":{"field":"a","type":"quantitative","scale":{"domain":[-11.25,95.67],"nice":false,"zero":false},"axis":{"offset":-56,"values":[20,40,60,80],"title":"v","titleX":390,"titleY":48,"zindex":1}},"x2":{"field":"b"},"y":{"field":"n","type":"quantitative","scale":{"domain":[-65.2,343.4],"nice":false,"zero":false},"axis":{"offset":-96,"format":"d","values":[0,50,100,150,200,250],"title":"Frequency","titleX":-51,"titleY":208,"zindex":1}},"y2":{"datum":0}}},
{"data":{"name":"one"},"mark":{"type":"rule","color":"#444","strokeWidth":1.2},"encoding":{"x":{"datum":20},"x2":{"datum":80},"y":{"datum":-11.5}}},
{"data":{"name":"one"},"mark":{"type":"rule","color":"#444","strokeWidth":1.2},"encoding":{"x":{"datum":1.9},"y":{"datum":0},"y2":{"datum":250}}},
{"data":{"name":"one"},"mark":{"type":"text","fontSize":53,"baseline":"alphabetic","align":"center","color":"#000","text":"AGB-Local.autopls-100m"},"encoding":{"x":{"datum":42.5},"y":{"datum":328.1}}}]}
],"spacing":0},{"hconcat":[
{"width":663,"height":427,"layer":[
{"data":{"name":"one"},"mark":{"type":"rect","fill":"white"},"encoding":{"x":{"datum":-22},"x2":{"datum":142.9},"y":{"datum":-1134.6},"y2":{"datum":5958}}},
{"data":{"name":"one"},"mark":{"type":"rect","fill":"white"},"encoding":{"x":{"datum":-17.64},"x2":{"datum":141.87},"y":{"datum":5958},"y2":{"datum":6764}}},
{"data":{"name":"b1"},"mark":{"type":"rect","fill":"white","stroke":"#555","strokeWidth":1.3},"encoding":{"x":{"field":"a","type":"quantitative","scale":{"domain":[-26.6,142.9],"nice":false,"zero":false},"axis":{"offset":-57,"values":[0,20,40,60,80,100,120,140],"title":"v","titleX":377,"titleY":48,"zindex":1}},"x2":{"field":"b"},"y":{"field":"n","type":"quantitative","scale":{"domain":[-1134.6,5958],"nice":false,"zero":false},"axis":{"offset":-83,"format":"d","values":[0,1000,2000,3000,4000,5000],"title":"Frequency","titleX":-52,"titleY":209,"zindex":1}},"y2":{"datum":0}}},
{"data":{"name":"one"},"mark":{"type":"rule","color":"#444","strokeWidth":1.2},"encoding":{"x":{"datum":0},"x2":{"datum":140},"y":{"datum":-188}}},
{"data":{"name":"one"},"mark":{"type":"rule","color":"#444","strokeWidth":1.2},"encoding":{"x":{"datum":-5.37},"y":{"datum":0},"y2":{"datum":5000}}},
{"data":{"name":"one"},"mark":{"type":"text","fontSize":53,"baseline":"alphabetic","align":"center","color":"#000","text":"AGB-Local.PowerL-25m"},"encoding":{"x":{"datum":60.6},"y":{"datum":5743}}}]},
{"width":734,"height":427,"view":{"fill":"white"},"layer":[
{"data":{"name":"one"},"mark":{"type":"rect","fill":"white"},"encoding":{"x":{"datum":-4.67},"x2":{"datum":105.1},"y":{"datum":1082.5},"y2":{"datum":1230.7}}},
{"data":{"name":"b2"},"mark":{"type":"rect","fill":"white","stroke":"#555","strokeWidth":1.3},"encoding":{"x":{"field":"a","type":"quantitative","scale":{"domain":[-17.98,108.9],"nice":false,"zero":false},"axis":{"offset":-56.5,"values":[0,20,40,60,80],"title":"v","titleX":378,"titleY":48.5,"zindex":1}},"x2":{"field":"b"},"y":{"field":"n","type":"quantitative","scale":{"domain":[-208.6,1082.5],"nice":false,"zero":false},"axis":{"offset":-82,"format":"d","values":[0,200,400,600,800],"title":"Frequency","titleX":-51.5,"titleY":209,"zindex":1}},"y2":{"datum":0}}},
{"data":{"name":"one"},"mark":{"type":"rule","color":"#444","strokeWidth":1.2},"encoding":{"x":{"datum":0},"x2":{"datum":80},"y":{"datum":-37.8}}},
{"data":{"name":"one"},"mark":{"type":"rule","color":"#444","strokeWidth":1.2},"encoding":{"x":{"datum":-3.8},"y":{"datum":0},"y2":{"datum":800}}},
{"data":{"name":"one"},"mark":{"type":"text","fontSize":53,"baseline":"alphabetic","align":"center","color":"#000","text":"AGB-Local. PowerL-50m"},"encoding":{"x":{"datum":49.6},"y":{"datum":1046.3}}},
{"data":{"name":"one"},"mark":{"type":"text","fontSize":53,"baseline":"alphabetic","align":"center","color":"#000","text":"Power Law Model"},"encoding":{"x":{"datum":46.3},"y":{"datum":1313.9}}},
{"data":{"name":"one"},"mark":{"type":"rect","fill":null,"stroke":"#ff0000","strokeWidth":5,"cornerRadius":2},"encoding":{"x":{"datum":-17.72},"x2":{"datum":108.47},"y":{"datum":-207.1},"y2":{"datum":1495.3}}}]},
{"width":780,"height":427,"view":{"fill":"white"},"layer":[
{"data":{"name":"one"},"mark":{"type":"rect","fill":"white"},"encoding":{"x":{"datum":-0.08},"x2":{"datum":78.8},"y":{"datum":364},"y2":{"datum":413.2}}},
{"data":{"name":"b3"},"mark":{"type":"rect","fill":"white","stroke":"#555","strokeWidth":1.3},"encoding":{"x":{"field":"a","type":"quantitative","scale":{"domain":[-8.98,83.55],"nice":false,"zero":false},"axis":{"offset":-57,"values":[10,20,30,40,50,60,70],"title":"v","titleX":390,"titleY":48,"zindex":1}},"x2":{"field":"b"},"y":{"field":"n","type":"quantitative","scale":{"domain":[-69.5,364],"nice":false,"zero":false},"axis":{"offset":-96,"format":"d","values":[0,50,100,150,200,250,300],"title":"Frequency","titleX":-51,"titleY":208,"zindex":1}},"y2":{"datum":0}}},
{"data":{"name":"one"},"mark":{"type":"rule","color":"#444","strokeWidth":1.2},"encoding":{"x":{"datum":10},"x2":{"datum":70},"y":{"datum":-11.7}}},
{"data":{"name":"one"},"mark":{"type":"rule","color":"#444","strokeWidth":1.2},"encoding":{"x":{"datum":2.4},"y":{"datum":0},"y2":{"datum":300}}},
{"data":{"name":"one"},"mark":{"type":"text","fontSize":53,"baseline":"alphabetic","align":"center","color":"#000","text":"AGB-Local. PowerL-100m"},"encoding":{"x":{"datum":39.06},"y":{"datum":350.8}}}]}
],"spacing":-1}],"spacing":34},
{"width":763,"height":857,"layer":[
{"data":{"name":"one"},"mark":{"type":"rect","fill":"white"},"encoding":{"x":{"datum":-0.5,"axis":null},"x2":{"datum":37.65},"y":{"datum":35.6,"axis":null},"y2":{"datum":-0.5}}},
{"data":{"name":"one"},"mark":{"type":"rect","fill":"white"},"encoding":{"x":{"datum":34.7,"axis":null},"x2":{"datum":44.95},"y":{"datum":28.85,"axis":null},"y2":{"datum":36.95}}},
{"data":{"name":"map"},"mark":{"type":"rect","width":20.4,"height":20.4},"encoding":{"x":{"field":"c","type":"quantitative","axis":null,"scale":{"domain":[-0.5,37.65],"nice":false,"zero":false}},"y":{"field":"r","type":"quantitative","axis":null,"scale":{"domain":[35.6,-7.25],"nice":false,"zero":false}},"color":{"field":"v","type":"quantitative","scale":{"domain":[0,8,14,20,26,33,40,48,54,60],"range":["#c8602a","#e8901a","#f5b810","#f8ee00","#90e800","#10d010","#0cb84a","#1a9a78","#1a6a90","#0a3888"]},"legend":{"orient":"none","legendX":3019,"legendY":734,"title":"AGB (kg/m²)","titleFontSize":24,"titleFont":"Liberation Sans","titleFontWeight":"bold","titleColor":"#000","titlePadding":20,"gradientLength":46,"gradientThickness":46,"values":[0,60],"labelExpr":"datum.value==60?'High : 60':'Low : 0'","labelFontSize":18,"labelFont":"Liberation Sans","labelColor":"#222","labelOffset":14,"labelOverlap":false,"padding":0,"zindex":1,"encoding":{"labels":{"update":{"baseline":{"value":"middle"}}}}}}}}]}
],"spacing":125},
{"hconcat":[
{"width":1378,"height":780,"layer":[
{"data":{"name":"one"},"mark":{"type":"rect","fill":"white"},"encoding":{"x":{"datum":-4.25},"x2":{"datum":75.97},"y":{"datum":-7.13},"y2":{"datum":82.27}}},
{"data":{"name":"one"},"mark":{"type":"rect","fill":null,"stroke":"#222","strokeWidth":1.5},"encoding":{"x":{"datum":2.38},"x2":{"datum":72.57},"y":{"datum":2.45},"y2":{"datum":72.55}}},
{"data":{"values":[{"o":2.38,"p":3.4},{"o":71.5,"p":72.55}]},"mark":{"type":"line","color":"#222","strokeWidth":1.2},"encoding":{"x":{"field":"o","type":"quantitative"},"y":{"field":"p","type":"quantitative"}}},
{"data":{"name":"s1"},"mark":{"type":"circle","opacity":1,"color":"#000","size":240},"encoding":{"x":{"field":"o","type":"quantitative","scale":{"domain":[-6.34,75.97],"nice":false,"zero":false},"axis":{"offset":-82,"values":[10,20,30,40,50,60,70],"tickSize":11,"tickColor":"#222","labelFontSize":30,"labelColor":"#222","labelPadding":3,"title":"AGB observed","titleFontSize":36,"titleColor":"#222","titleX":733,"titleY":62,"zindex":1}},"y":{"field":"p","type":"quantitative","scale":{"domain":[-7.13,84.02],"nice":false,"zero":false},"axis":{"offset":-146,"values":[10,20,30,40,50,60,70],"tickSize":12,"tickColor":"#222","labelFontSize":30,"labelColor":"#222","labelPadding":16,"title":"AGB predicted","titleFontSize":32,"titleColor":"#222","titleX":-96,"titleY":399,"zindex":1}}}},
{"data":{"values":[{"t":"RMSE(CAL): 6.62","o":57.64,"p":31.9},{"t":"RMSE(LOO):","o":57.64,"p":25.7},{"t":"9.96","o":57.64,"p":19.86},{"t":"R2(CAL): 0.828","o":57.64,"p":13.9},{"t":"R2(LOO): 0.611","o":57.64,"p":7.95}]},"mark":{"type":"text","fontSize":42,"fontWeight":"bold","color":"#000","baseline":"middle","align":"center"},"encoding":{"text":{"field":"t"},"x":{"field":"o","type":"quantitative"},"y":{"field":"p","type":"quantitative"}}},
{"data":{"name":"one"},"mark":{"type":"text","fontSize":78,"baseline":"alphabetic","align":"center","color":"#000","text":"AutoPLS"},"encoding":{"x":{"datum":37.03},"y":{"datum":86.48}}}]},
{"width":1345,"height":780,"view":{"fill":"white"},"layer":[
{"data":{"name":"one"},"mark":{"type":"rect","fill":null,"stroke":"#222","strokeWidth":1.5},"encoding":{"x":{"datum":2.35},"x2":{"datum":72.59},"y":{"datum":2.37},"y2":{"datum":72.67}}},
{"data":{"values":[{"o":2.35,"p":3.44},{"o":71.56,"p":72.67}]},"mark":{"type":"line","color":"#222","strokeWidth":1.2},"encoding":{"x":{"field":"o","type":"quantitative"},"y":{"field":"p","type":"quantitative"}}},
{"data":{"name":"s2"},"mark":{"type":"circle","opacity":1,"color":"#000","size":240},"encoding":{"x":{"field":"o","type":"quantitative","scale":{"domain":[-3.97,75.85],"nice":false,"zero":false},"axis":{"offset":-86,"values":[10,20,30,40,50,60,70],"tickSize":11,"tickColor":"#222","labelFontSize":30,"labelColor":"#222","labelPadding":4,"title":"AGB observed","titleFontSize":36,"titleColor":"#222","titleX":697,"titleY":67,"zindex":1}},"y":{"field":"p","type":"quantitative","scale":{"domain":[-7.68,83.54],"nice":false,"zero":false},"axis":{"offset":-106.5,"values":[10,20,30,40,50,60,70],"tickSize":12,"tickColor":"#222","labelFontSize":30,"labelColor":"#222","labelPadding":16,"title":"AGB predicted","titleFontSize":32,"titleColor":"#222","titleX":-93.5,"titleY":393.5,"zindex":1}}}},
{"data":{"values":[{"t":"Residual standard","o":60.48,"p":22.32},{"t":"error: 10.69","o":60.48,"p":16.18},{"t":"RMSE= 9.559878","o":60.48,"p":10.26}]},"mark":{"type":"text","fontSize":42,"color":"#000","baseline":"middle","align":"center"},"encoding":{"text":{"field":"t"},"x":{"field":"o","type":"quantitative"},"y":{"field":"p","type":"quantitative"}}},
{"data":{"name":"one"},"mark":{"type":"text","fontSize":79,"baseline":"alphabetic","align":"center","color":"#000","text":"Power Law Model"},"encoding":{"x":{"datum":37.1},"y":{"datum":86.82}}}]}
],"spacing":435}],"spacing":92}
